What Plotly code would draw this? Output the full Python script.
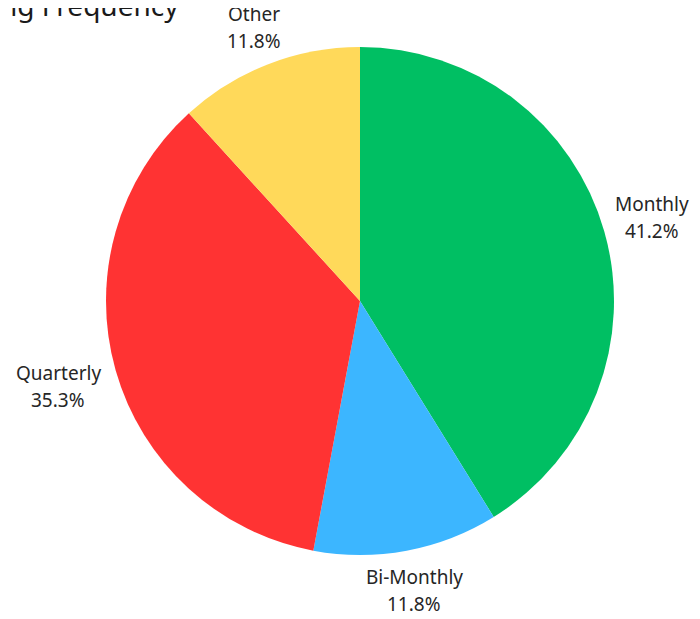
import math
import plotly.graph_objects as go

labels = ["Monthly", "Bi-Monthly", "Quarterly", "Other"]
values = [7, 2, 6, 2]
colors = ["#00BF63", "#3CB6FF", "#FF3333", "#FFD95A"]
title_text = "ng Frequency"

W, H = 700, 619
OFF = 8  # page body margin offset
cx, cy, r = 360 - OFF, 301 - OFF, 254
FONT = "Noto Sans, Open Sans, sans-serif"
FS = 19
LINE_GAP = 27
GAP = 8
CHAR_W = 10.5

fig = go.Figure(go.Pie(
    labels=labels,
    values=values,
    marker=dict(colors=colors, line=dict(width=0)),
    sort=False,
    direction="clockwise",
    rotation=0,
    textinfo="none",
    showlegend=False,
    hoverinfo="label+percent",
    domain=dict(x=[(cx - r) / W, (cx + r) / W], y=[(H - cy - r) / H, (H - cy + r) / H]),
))

# outside labels placed along each slice's mid-angle
total = sum(values)
cum = 0
for lab, v in zip(labels, values):
    mid = (cum + v / 2) / total * 2 * math.pi
    cum += v
    s, c = math.sin(mid), math.cos(mid)
    hw = len(lab) * CHAR_W / 2
    hh = (LINE_GAP + FS) / 2
    R = r + GAP + hw * abs(s) + hh * abs(c)
    px, py = cx + R * s, cy - R * c
    pct = f"{v / total * 100:.1f}%"
    for txt, dy in ((lab, -LINE_GAP / 2), (pct, LINE_GAP / 2)):
        fig.add_annotation(
            text=txt, xref="paper", yref="paper",
            x=px / W, y=1 - (py + dy) / H,
            xanchor="center", yanchor="middle", showarrow=False,
            font=dict(family=FONT, size=FS, color="#262626"),
        )

fig.add_annotation(
    text=title_text, xref="paper", yref="paper", x=-10 / W, y=1.0,
    xanchor="left", yanchor="middle", showarrow=False, yshift=3,
    font=dict(family=FONT, size=28, color="#1a1a1a"),
)

fig.update_layout(
    width=W, height=H,
    margin=dict(l=0, r=0, t=0, b=0),
    paper_bgcolor="white",
    plot_bgcolor="white",
)

fig.write_html("out.html")
